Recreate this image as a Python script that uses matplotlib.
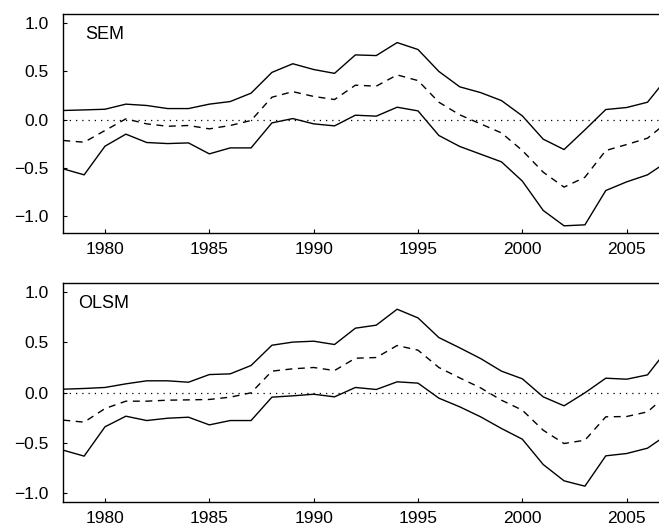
import matplotlib
matplotlib.use("Agg")
import matplotlib.pyplot as plt

plt.rcParams['font.family'] = ['Liberation Sans', 'DejaVu Sans']

years = list(range(1978, 2008))

sem_upper = [0.094, 0.10, 0.107, 0.16, 0.146, 0.114, 0.114, 0.16, 0.187, 0.274,
             0.49, 0.58, 0.52, 0.48, 0.672, 0.665, 0.80, 0.728, 0.50, 0.34,
             0.28, 0.197, 0.038, -0.204, -0.312, -0.107, 0.104, 0.125, 0.18, 0.45]
sem_mid = [-0.218, -0.236, -0.114, 0.007, -0.045, -0.07, -0.062, -0.097, -0.062, -0.01,
           0.232, 0.29, 0.24, 0.208, 0.357, 0.347, 0.464, 0.405, 0.18, 0.049,
           -0.045, -0.139, -0.322, -0.547, -0.703, -0.60, -0.322, -0.26, -0.194, -0.018]
sem_lower = [-0.513, -0.575, -0.277, -0.152, -0.239, -0.25, -0.243, -0.357, -0.295, -0.295,
             -0.035, 0.01, -0.045, -0.066, 0.045, 0.035, 0.128, 0.09, -0.166, -0.28,
             -0.36, -0.44, -0.64, -0.945, -1.105, -1.095, -0.738, -0.648, -0.575, -0.43]

olsm_upper = [0.033, 0.04, 0.05, 0.086, 0.116, 0.116, 0.102, 0.178, 0.185, 0.268,
              0.469, 0.50, 0.509, 0.476, 0.638, 0.668, 0.826, 0.74, 0.545, 0.443,
              0.337, 0.212, 0.136, -0.043, -0.132, -0.003, 0.142, 0.132, 0.175, 0.44]
olsm_mid = [-0.274, -0.294, -0.159, -0.086, -0.086, -0.076, -0.073, -0.069, -0.046, -0.003,
            0.212, 0.235, 0.248, 0.218, 0.34, 0.347, 0.466, 0.42, 0.248, 0.145,
            0.046, -0.076, -0.175, -0.374, -0.506, -0.473, -0.241, -0.238, -0.192, -0.01]
olsm_lower = [-0.572, -0.631, -0.34, -0.235, -0.278, -0.255, -0.245, -0.321, -0.278, -0.278,
              -0.046, -0.033, -0.017, -0.043, 0.05, 0.03, 0.106, 0.093, -0.056, -0.142,
              -0.241, -0.357, -0.463, -0.714, -0.876, -0.929, -0.628, -0.605, -0.552, -0.41]

xticks = [1980, 1985, 1990, 1995, 2000, 2005]
yticks = [-1.0, -0.5, 0.0, 0.5, 1.0]

fig = plt.figure(figsize=(6.59, 5.29), dpi=100)
ax1 = fig.add_axes([0.096, 0.5595, 0.904, 0.414])
ax2 = fig.add_axes([0.096, 0.0516, 0.904, 0.4134])

panels = [
    (ax1, "SEM", sem_upper, sem_mid, sem_lower, (-1.18, 1.097), 0.908, 0.036),
    (ax2, "OLSM", olsm_upper, olsm_mid, olsm_lower, (-1.083, 1.086), 0.905, 0.025),
]

for ax, label, up, mid, lo, ylim, ty, tx in panels:
    ax.axhline(0, color='black', lw=0.9, ls=(0, (1, 4)))
    ax.plot(years, up, color='black', lw=1.0)
    ax.plot(years, mid, color='black', lw=1.0, ls=(0, (5, 4)))
    ax.plot(years, lo, color='black', lw=1.0)
    ax.set_xlim(1978, 2006.55)
    ax.set_ylim(*ylim)
    ax.set_xticks(xticks)
    ax.set_yticks(yticks)
    ax.set_yticklabels([f"{v:.1f}".replace('-', '\u2212') for v in yticks])
    ax.tick_params(direction='in', length=3, width=0.8, labelsize=12.5)
    ax.tick_params(axis='y', pad=10.5)
    ax.tick_params(axis='x', pad=6.5)
    ax.spines['right'].set_visible(False)
    for s in ['left', 'bottom', 'top']:
        ax.spines[s].set_linewidth(1.0)
    ax.text(tx, ty, label, transform=ax.transAxes,
            fontsize=13, ha='left', va='center')

fig.savefig("out.png", dpi=100)
